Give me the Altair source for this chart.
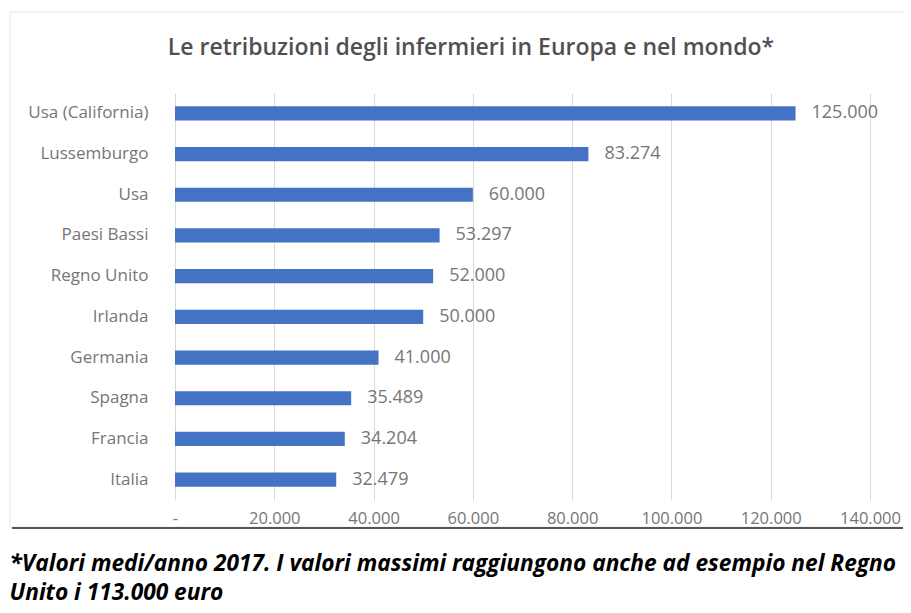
import altair as alt
import pandas as pd

paesi = ["Usa (California)", "Lussemburgo", "Usa", "Paesi Bassi", "Regno Unito",
         "Irlanda", "Germania", "Spagna", "Francia", "Italia"]
retribuzioni = [125000, 83274, 60000, 53297, 52000, 50000, 41000, 35489, 34204, 32479]
x_ticks = [0, 20000, 40000, 60000, 80000, 100000, 120000, 140000]

titolo = "Le retribuzioni degli infermieri in Europa e nel mondo*"
nota = ["*Valori medi/anno 2017. I valori massimi raggiungono anche ad esempio nel Regno",
        "Unito i 113.000 euro"]

df = pd.DataFrame({"paese": paesi, "valore": retribuzioni})

FONT = "Open Sans"
GREY = "#767676"

x_enc = alt.X(
    "valore:Q",
    scale=alt.Scale(domain=[0, 140000], nice=False),
    axis=alt.Axis(
        values=x_ticks,
        labelExpr="datum.value == 0 ? '-' : replace(format(datum.value, ','), ',', '.')",
        domain=False, ticks=False, labelFlush=False,
        grid=True, gridColor="#d9d9d9", gridWidth=1,
        labelFont=FONT, labelFontSize=16.5, labelColor=GREY, labelPadding=10,
        title=nota, titleFont=FONT, titleFontSize=22.7, titleFontWeight="bold",
        titleFontStyle="italic", titleColor="#000000", titleAnchor="start",
        titleAlign="left", titleBaseline="alphabetic", titleLineHeight=29,
        titleX=-166, titleY=70,
    ),
)
y_enc = alt.Y(
    "paese:N", sort=None,
    scale=alt.Scale(paddingInner=0.65),
    axis=alt.Axis(
        title=None, domain=False, ticks=False, grid=False,
        labelFont=FONT, labelFontSize=17, labelColor=GREY, labelPadding=27,
    ),
)

bars = alt.Chart(df).mark_bar(color="#4472C4").encode(x=x_enc, y=y_enc)

labels = alt.Chart(df).transform_calculate(
    lab="replace(format(datum.valore, ','), ',', '.')"
).mark_text(align="left", baseline="middle", dx=16, font=FONT, fontSize=18,
            color=GREY).encode(
    x=alt.X("valore:Q"), y=alt.Y("paese:N", sort=None), text="lab:N"
)

one = pd.DataFrame({"k": [0]})
frame = alt.Chart(one).mark_rect(fill=None, stroke="#e6e6e6", strokeWidth=1).encode(
    x=alt.value(-165), x2=alt.value(730), y=alt.value(-81), y2=alt.value(434)
)
bottom_line = alt.Chart(one).mark_rule(color="#555555", strokeWidth=2).encode(
    x=alt.value(-163), x2=alt.value(728), y=alt.value(435)
)
title_df = pd.DataFrame({"t": [titolo]})
title_mark = alt.Chart(title_df).mark_text(
    font=FONT, fontSize=23, fontWeight=600, color="#505050", align="center",
    baseline="middle"
).encode(x=alt.value(296), y=alt.value(-45), text="t:N")

chart = alt.layer(frame, bars, labels, bottom_line, title_mark).properties(
    width=695, height=407,
    autosize=alt.AutoSizeParams(type="none"),
    padding={"left": 167, "top": 85, "right": 33, "bottom": 105},
    background="white",
).configure_view(stroke=None)

chart.save("out.html", embed_options={"renderer": "svg", "actions": False})
